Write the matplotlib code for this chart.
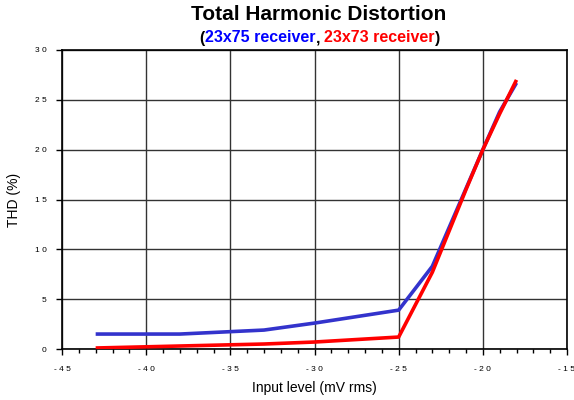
import matplotlib
matplotlib.use("Agg")
import matplotlib.pyplot as plt
from matplotlib.ticker import MultipleLocator

plt.rcParams['font.family'] = ['Liberation Sans', 'DejaVu Sans']

x_blue = [-43, -38, -33, -30, -25, -23, -21, -20, -19, -18]
y_blue = [1.5, 1.5, 1.9, 2.6, 3.9, 8.3, 16.1, 20.0, 23.8, 26.7]
x_red = [-43, -38, -33, -30, -25, -23, -21, -20, -19, -18]
y_red = [0.1, 0.3, 0.5, 0.7, 1.2, 7.7, 16.0, 20.0, 23.6, 27.0]
x_ticks = [-45, -40, -35, -30, -25, -20, -15]
y_ticks = [0, 5, 10, 15, 20, 25, 30]

def spaced(v):
    return " ".join(str(v))

fig = plt.figure(figsize=(5.74, 4.0), dpi=100)
ax = fig.add_axes([62/574, 51/400, 505/574, 299/400])

ax.plot(x_blue, y_blue, color='#3333cc', lw=2.6, solid_capstyle='butt', zorder=3)
ax.plot(x_red, y_red, color='#ff0000', lw=2.6, solid_capstyle='butt', zorder=4)

ax.set_xlim(-45, -15)
ax.set_ylim(0, 30)
ax.set_xticks(x_ticks)
ax.set_xticklabels([spaced(v) for v in x_ticks])
ax.set_yticks(y_ticks)
ax.set_yticklabels([spaced(v) for v in y_ticks])
ax.xaxis.set_minor_locator(MultipleLocator(1))
ax.tick_params(axis='both', which='major', labelsize=6, length=4, width=1, color='black', pad=8)
ax.tick_params(axis='y', which='major', pad=7)
ax.tick_params(axis='x', which='minor', length=3, width=1)
ax.grid(True, which='major', color='#333333', lw=1)
for s in ax.spines.values():
    s.set_color('black')
    s.set_linewidth(1.2)

ax.set_xlabel('Input level (mV rms)', fontsize=10, labelpad=6)
ax.set_ylabel('THD (%)', fontsize=10, labelpad=10)

fig.text(319/574, 1 - 15/400, 'Total Harmonic Distortion', fontsize=15, fontweight='bold',
         ha='center', va='center')

# multi-colored subtitle
parts = [('(', 'black'), ('23x75 receiver', '#0000ff'), (', ', 'black'),
         ('23x73 receiver', '#ff0000'), (')', 'black')]
fig.canvas.draw()
r = fig.canvas.get_renderer()
texts = []
for s, c in parts:
    t = fig.text(0, 1 - 38/400, s, fontsize=11.5, fontweight='bold', color=c, va='center', ha='left')
    texts.append(t)
widths = [t.get_window_extent(r).width for t in texts]
total = sum(widths)
x0 = (320 - total / 2)
for t, w in zip(texts, widths):
    t.set_x(x0 / 574)
    x0 += w

fig.savefig('out.png', dpi=100)
